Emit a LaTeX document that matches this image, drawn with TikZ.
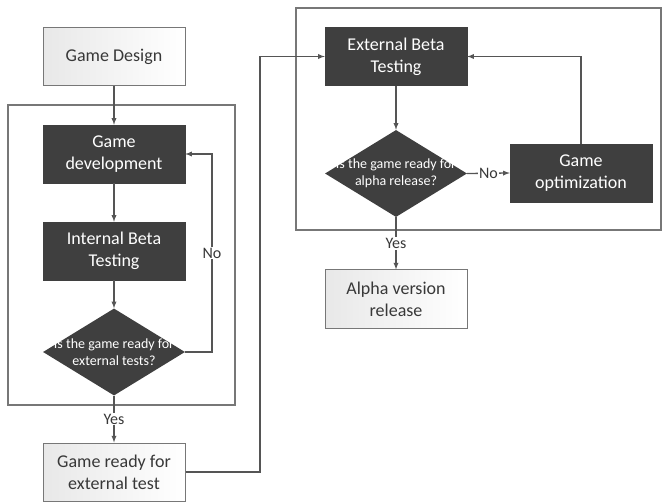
\documentclass[tikz,border=0pt]{standalone}
\usepackage{fontspec}
\setmainfont{Carlito}
\usetikzlibrary{shapes.geometric,calc}

\definecolor{boxdark}{HTML}{3F3F3F}
\definecolor{linegray}{HTML}{555555}
\definecolor{framegray}{HTML}{777777}

\tikzset{
  darkbox/.style={rectangle, fill=boxdark, draw=boxdark, text=white, minimum width=142pt, minimum height=58pt, inner sep=0pt, align=center, font=\fontsize{18}{22}\selectfont},
  lightbox/.style={rectangle, left color=black!9, right color=white, draw=framegray, line width=1pt, text=black!78, minimum width=142pt, minimum height=58pt, inner sep=0pt, align=center, font=\fontsize{18}{22}\selectfont},
  decision/.style={diamond, fill=boxdark, minimum width=142pt, minimum height=87pt, inner sep=0pt},
  qtext/.style={text=white, align=center, font=\fontsize{14}{17}\selectfont},
  flow/.style={draw=linegray, line width=1.3pt, -latex},
  lbl/.style={fill=white, inner sep=1pt, text=black!78, font=\fontsize{16}{18}\selectfont},
  frame/.style={draw=framegray, line width=1.6pt}
}

\begin{document}
\begin{tikzpicture}[x=1pt,y=-1pt]
\useasboundingbox (0,0) rectangle (663,502);

% containers
\draw [frame] (8,105) rectangle (235,405);
\draw [frame] (296,8) rectangle (661,230);

% left column
\node [lightbox] (design) at (114,56.5) {Game Design};
\node [darkbox] (dev) at (114,154) {Game\\development};
\node [darkbox] (ibt) at (114,251) {Internal Beta\\Testing};
\node [decision, label={[qtext]center:Is the game ready for\\external tests?}] (q1) at (114,352) {};
\node [lightbox] (ready) at (114,472) {Game ready for\\external test};

% right column
\node [darkbox] (ebt) at (396,56.5) {External Beta\\Testing};
\node [decision, label={[qtext]center:Is the game ready for\\alpha release?}] (q2) at (396,173.5) {};
\node [darkbox] (opt) at (581,173) {Game\\optimization};
\node [lightbox] (alpha) at (396,299) {Alpha version\\release};

\coordinate (loopL) at (212,0);
\coordinate (bridge) at (260,0);

\draw [flow] (design) -- (dev);
\draw [flow] (dev) -- (ibt);
\draw [flow] (ibt) -- (q1);
\draw [flow] (q1.east) -- (q1.east -| loopL) -- node [lbl] {No} (dev.east -| loopL) -- (dev.east);
\draw [flow] (q1.south) -- node [lbl] {Yes} (ready.north);
\draw [flow] (ready.east) -- (ready.east -| bridge) -- (ebt.west -| bridge) -- (ebt.west);

\draw [flow] (ebt) -- (q2);
\draw [flow] (q2.east) -- node [lbl] {No} (opt.west);
\draw [flow] (opt.north) |- (ebt.east);
\draw [flow] (q2.south) -- node [lbl] {Yes} (alpha.north);
\end{tikzpicture}
\end{document}
